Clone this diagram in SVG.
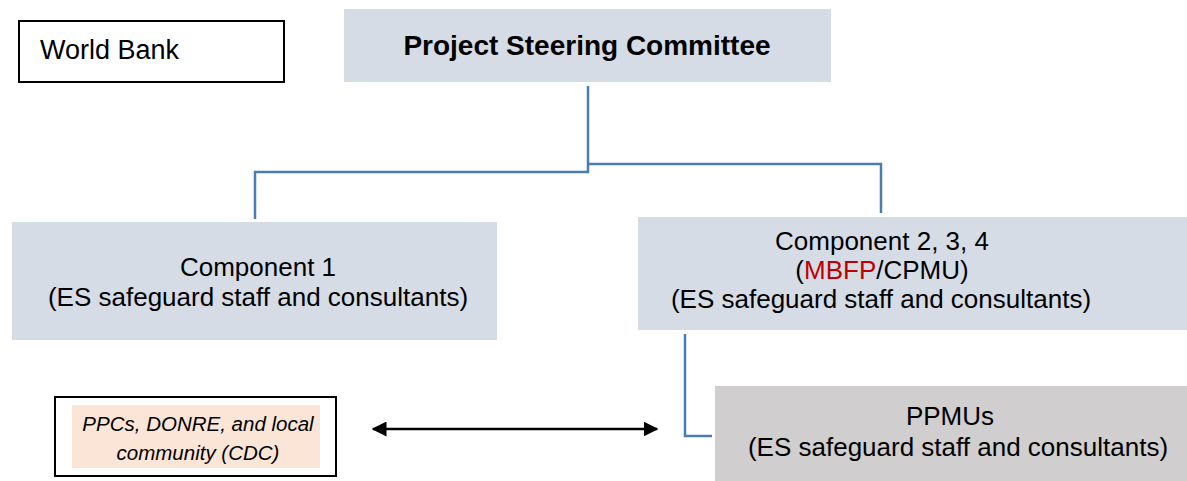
<svg xmlns="http://www.w3.org/2000/svg" width="1187" height="481" viewBox="0 0 1187 481">
  <style>
    .t { font-family: "Liberation Sans", Arial, sans-serif; font-size: 26px; fill: #000; text-anchor: middle; }
    .blue { fill: #D6DCE5; }
    .grey { fill: #D0CECE; }
    .frame { fill: #fff; stroke: #000; stroke-width: 2; }
    .link { fill: none; stroke: #4A7EB3; stroke-width: 2.5; }
    .arrow { fill: none; stroke: #000; stroke-width: 2.5; }
    .it { font-style: italic; font-size: 20.5px; }
  </style>
  <defs>
    <marker id="head" viewBox="0 0 10 10" refX="9" refY="5" markerWidth="6" markerHeight="6" orient="auto-start-reverse" markerUnits="strokeWidth">
      <path d="M0,0 L10,5 L0,10 z" fill="#000"/>
    </marker>
  </defs>

  <g id="connectors">
    <polyline class="link" points="588,86 588,172 255,172 255,219"/>
    <polyline class="link" points="588,164 881,164 881,213"/>
    <polyline class="link" points="685,334 685,436 712,436"/>
    <line class="arrow" x1="373" y1="429" x2="657" y2="429" marker-start="url(#head)" marker-end="url(#head)"/>
  </g>

  <g id="world-bank">
    <rect class="frame" x="19" y="21" width="265" height="61"/>
    <text class="t" x="40" y="59" style="text-anchor:start;font-size:27px">World Bank</text>
  </g>

  <g id="steering-committee">
    <rect class="blue" x="344" y="9" width="487" height="73"/>
    <text class="t" x="587" y="55" style="font-weight:bold;font-size:28px">Project Steering Committee</text>
  </g>

  <g id="component-1">
    <rect class="blue" x="12" y="222" width="485" height="118"/>
    <text class="t" x="258" y="276">Component 1</text>
    <text class="t" x="258" y="306">(ES safeguard staff and consultants)</text>
  </g>

  <g id="component-2-3-4">
    <rect class="blue" x="638" y="217" width="549" height="113"/>
    <text class="t" x="882" y="250">Component 2, 3, 4</text>
    <text class="t" x="882" y="279">(<tspan fill="#C00000">MBFP</tspan>/CPMU)</text>
    <text class="t" x="881" y="308">(ES safeguard staff and consultants)</text>
  </g>

  <g id="ppmus">
    <rect class="grey" x="715" y="386" width="472" height="95"/>
    <text class="t" x="950" y="425">PPMUs</text>
    <text class="t" x="958" y="456">(ES safeguard staff and consultants)</text>
  </g>

  <g id="local-partners">
    <rect class="frame" x="55" y="397" width="281" height="79"/>
    <rect x="72" y="405" width="248" height="63" fill="#FBE5D6"/>
    <text class="t it" x="198" y="431">PPCs, DONRE, and local</text>
    <text class="t it" x="198" y="460">community (CDC)</text>
  </g>
</svg>
